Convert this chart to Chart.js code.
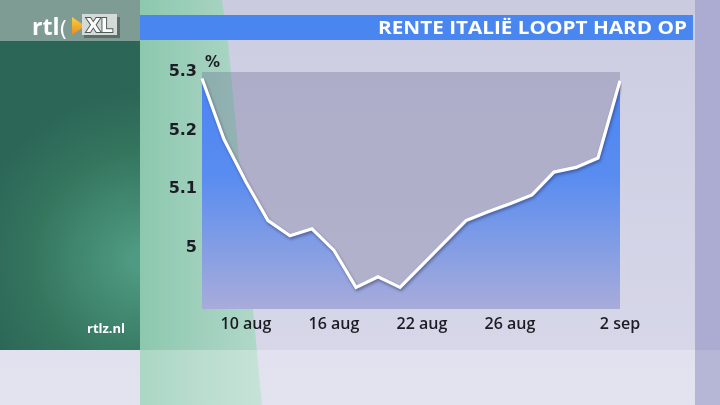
<!DOCTYPE html>
<html><head><meta charset="utf-8">
<script src="https://cdn.jsdelivr.net/npm/chart.js@4/dist/chart.umd.min.js"></script>
<style>html,body{margin:0;padding:0;background:#d2d2e6;overflow:hidden}canvas{display:block}</style>
</head><body>
<canvas id="c" width="720" height="405"></canvas>
<script>
const categories = ['8 aug','9 aug','10 aug','11 aug','12 aug','15 aug','16 aug','17 aug','18 aug','19 aug','22 aug','23 aug','24 aug','25 aug','26 aug','29 aug','30 aug','31 aug','1 sep','2 sep'];
const yieldValues = [5.289,5.185,5.112,5.046,5.020,5.032,4.995,4.932,4.950,4.932,4.970,5.008,5.046,5.061,5.075,5.090,5.129,5.137,5.153,5.285];
const xTickLabels = ['10 aug','16 aug','22 aug','26 aug','2 sep'];
const yTickValues = [5, 5.1, 5.2, 5.3];
const yMin = 4.895, yMax = 5.3;
const titleText = 'RENTE ITALIË LOOPT HARD OP';
const unitText = '%';
const sourceText = 'rtlz.nl';

function drawBackground(ctx){
  const W = 720, H = 405;
  let g = ctx.createLinearGradient(0,0,0,H);
  g.addColorStop(0,'#cdcde2'); g.addColorStop(1,'#d8d8ea');
  ctx.fillStyle = g; ctx.fillRect(0,0,W,H);
  // right column
  ctx.fillStyle = '#acacd2'; ctx.fillRect(695,0,25,H);
  // top strip
  ctx.fillStyle = '#cbcbe0'; ctx.fillRect(140,0,555,15);
  // green wedge
  ctx.beginPath(); ctx.moveTo(140,0); ctx.lineTo(222,0); ctx.lineTo(228,41); ctx.lineTo(262,405); ctx.lineTo(140,405); ctx.closePath();
  g = ctx.createLinearGradient(140,0,262,0);
  g.addColorStop(0,'#8cc8ae'); g.addColorStop(1,'#b2d8ca');
  ctx.fillStyle = g; ctx.fill();
  // left teal panel
  g = ctx.createRadialGradient(140,260,10,140,260,170);
  g.addColorStop(0,'#4f9a82'); g.addColorStop(0.6,'#35765f'); g.addColorStop(1,'#2b6656');
  ctx.fillStyle = g; ctx.fillRect(0,41,140,309);
  // logo band
  ctx.fillStyle = '#7f9c94'; ctx.fillRect(0,0,140,41);
  // bottom band
  ctx.fillStyle = 'rgba(255,255,255,0.28)'; ctx.fillRect(0,350,695,55);
  ctx.fillStyle = 'rgba(255,255,255,0.12)'; ctx.fillRect(695,350,25,55);
  // title bar
  ctx.fillStyle = '#4a86f0'; ctx.fillRect(140,15,553,25);
}

function drawLogo(ctx){
  ctx.save();
  ctx.fillStyle = '#ffffff';
  ctx.font = 'bold 23px "Open Sans"';
  ctx.textBaseline = 'alphabetic';
  ctx.textAlign = 'left';
  ctx.fillText('rtl', 32, 35);
  ctx.font = '22px "DejaVu Sans"';
  ctx.fillText('(', 59, 36);
  // triangle
  const tg = ctx.createLinearGradient(0,17,0,35);
  tg.addColorStop(0,'#f7d23a'); tg.addColorStop(1,'#ee8a22');
  ctx.fillStyle = tg;
  ctx.beginPath(); ctx.moveTo(72,17); ctx.lineTo(85,26); ctx.lineTo(72,35); ctx.closePath(); ctx.fill();
  // XL box
  ctx.fillStyle = '#5d6e69'; ctx.fillRect(84,17,36,21);
  ctx.fillStyle = '#d4dad8'; ctx.fillRect(82,14,35,21);
  ctx.font = 'bold 19px "DejaVu Sans"';
  ctx.lineWidth = 2; ctx.strokeStyle = '#4d5a56';
  ctx.strokeText('XL', 86, 32);
  ctx.fillStyle = '#ffffff';
  ctx.fillText('XL', 86, 32);
  ctx.restore();
}

const decoPlugin = {
  id: 'deco',
  beforeDraw(chart){
    const ctx = chart.ctx, a = chart.chartArea;
    ctx.save();
    drawBackground(ctx);
    ctx.fillStyle = 'rgba(95,95,140,0.30)';
    ctx.fillRect(a.left, a.top, a.right - a.left, a.bottom - a.top);
    ctx.restore();
  },
  afterDraw(chart){
    const ctx = chart.ctx, a = chart.chartArea;
    ctx.save();
    ctx.font = 'bold 17px "Open Sans"';
    const w = ctx.measureText(titleText).width;
    const target = 309;
    ctx.translate(687 - target, 0);
    ctx.scale(target / w, 1);
    ctx.fillStyle = '#ffffff';
    ctx.textBaseline = 'alphabetic';
    ctx.fillText(titleText, 0, 34);
    ctx.restore();
    ctx.save();
    ctx.fillStyle = '#1c1c24';
    ctx.font = 'bold 15px "DejaVu Sans"';
    ctx.textBaseline = 'alphabetic';
    ctx.fillText(unitText, a.left + 3, 67);
    ctx.fillStyle = '#ffffff';
    ctx.font = 'bold 13px "Open Sans"';
    ctx.textBaseline = 'middle';
    ctx.fillText(sourceText, 87, 329);
    ctx.restore();
    drawLogo(ctx);
  }
};

const shadowPlugin = {
  id: 'lineShadow',
  beforeDatasetDraw(chart){
    const ctx = chart.ctx;
    ctx.save();
    ctx.shadowColor = 'rgba(30,30,60,0.45)';
    ctx.shadowBlur = 3;
    ctx.shadowOffsetX = 1;
    ctx.shadowOffsetY = 2;
  },
  afterDatasetDraw(chart){
    chart.ctx.restore();
  }
};

new Chart(document.getElementById('c'), {
  type: 'line',
  data: {
    labels: categories,
    datasets: [{
      data: yieldValues,
      borderColor: '#ffffff',
      borderWidth: 3.2,
      pointRadius: 0,
      tension: 0,
      fill: 'start',
      backgroundColor(context){
        const a = context.chart.chartArea;
        if (!a) return '#5a8cf0';
        const g = context.chart.ctx.createLinearGradient(0, a.top, 0, a.bottom);
        g.addColorStop(0, '#4a83f3');
        g.addColorStop(0.45, '#5a8df0');
        g.addColorStop(1, '#a8acda');
        return g;
      }
    }]
  },
  options: {
    responsive: false,
    animation: false,
    devicePixelRatio: 1,
    layout: { padding: { top: 72, right: 100, left: 0, bottom: 0 } },
    plugins: { legend: { display: false }, tooltip: { enabled: false }, title: { display: false } },
    scales: {
      x: {
        type: 'category',
        offset: false,
        grid: { display: false, drawTicks: false },
        border: { display: false },
        afterFit(s){ s.height = 96; },
        ticks: {
          autoSkip: false, maxRotation: 0, minRotation: 0, padding: 6,
          color: '#1c1c24',
          font: { family: '"Open Sans"', size: 16, weight: '600' },
          callback(v, i){ return xTickLabels.includes(categories[i]) ? categories[i] : ''; }
        }
      },
      y: {
        min: yMin, max: yMax,
        grid: { display: false, drawTicks: false },
        border: { display: false },
        afterFit(s){ s.width = 202; },
        afterBuildTicks(s){ s.ticks = yTickValues.map(v => ({ value: v })); },
        ticks: {
          padding: 5,
          color: '#1c1c24',
          font: { family: '"DejaVu Sans"', size: 16, weight: 'bold' },
          callback(v){ return String(Math.round(v * 10) / 10); }
        }
      }
    }
  },
  plugins: [decoPlugin, shadowPlugin]
});
</script>
</body></html>
